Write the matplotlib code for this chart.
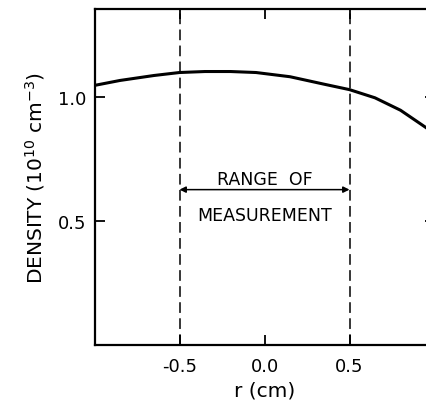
import matplotlib
matplotlib.use("Agg")
import matplotlib.pyplot as plt

# Data
r_vals = [-1.0, -0.85, -0.65, -0.5, -0.35, -0.2, -0.05, 0.15, 0.35, 0.5, 0.65, 0.8, 0.95, 1.0]
density = [1.045, 1.065, 1.085, 1.097, 1.101, 1.101, 1.097, 1.08, 1.05, 1.028, 0.995, 0.945, 0.875, 0.85]
range_bounds = [-0.5, 0.5]
xticks = [-0.5, 0.0, 0.5]
xticklabels = ["-0.5", "0.0", "0.5"]
yticks = [0.5, 1.0]
yticklabels = ["0.5", "1.0"]

plt.rcParams['font.family'] = ['DejaVu Sans']
plt.rcParams['mathtext.default'] = 'regular'

fig = plt.figure(figsize=(4.26, 4.02), dpi=100)
W, H = 426, 402
left_px, right_px = 94.5, 434.5
top_px, bot_px = 9.5, 345.7
ax = fig.add_axes([left_px / W, 1 - bot_px / H, (right_px - left_px) / W, (bot_px - top_px) / H])

ax.plot(r_vals, density, color='black', lw=2.2, solid_capstyle='butt')

for xb in range_bounds:
    ax.axvline(xb, color='black', lw=1.1, ls=(0, (7, 3.5)))

ax.annotate('', xy=(range_bounds[0], 0.625), xytext=(range_bounds[1], 0.625),
            arrowprops=dict(arrowstyle='<|-|>', color='black', lw=1.1,
                            mutation_scale=9, shrinkA=0, shrinkB=0))
ax.text(0.0, 0.669, 'RANGE  OF', ha='center', va='center', fontsize=12.5)
ax.text(0.0, 0.524, 'MEASUREMENT', ha='center', va='center', fontsize=12.5)

ax.set_xlim(-1.0, 1.0)
ax.set_ylim(0, 1.355)
ax.set_xticks(xticks)
ax.set_xticklabels(xticklabels)
ax.set_yticks(yticks)
ax.set_yticklabels(yticklabels)
ax.tick_params(direction='in', length=7, width=1.3, labelsize=13,
               top=True, right=True)
ax.tick_params(axis='x', pad=9)
ax.tick_params(axis='y', pad=6)
for s in ax.spines.values():
    s.set_linewidth(1.6)

ax.set_xlabel('r (cm)', fontsize=14.5, labelpad=4)
ax.set_ylabel('DENSITY (10$^{10}$ cm$^{-3}$)', fontsize=14.5, labelpad=8)

fig.savefig('out.png', dpi=100)
